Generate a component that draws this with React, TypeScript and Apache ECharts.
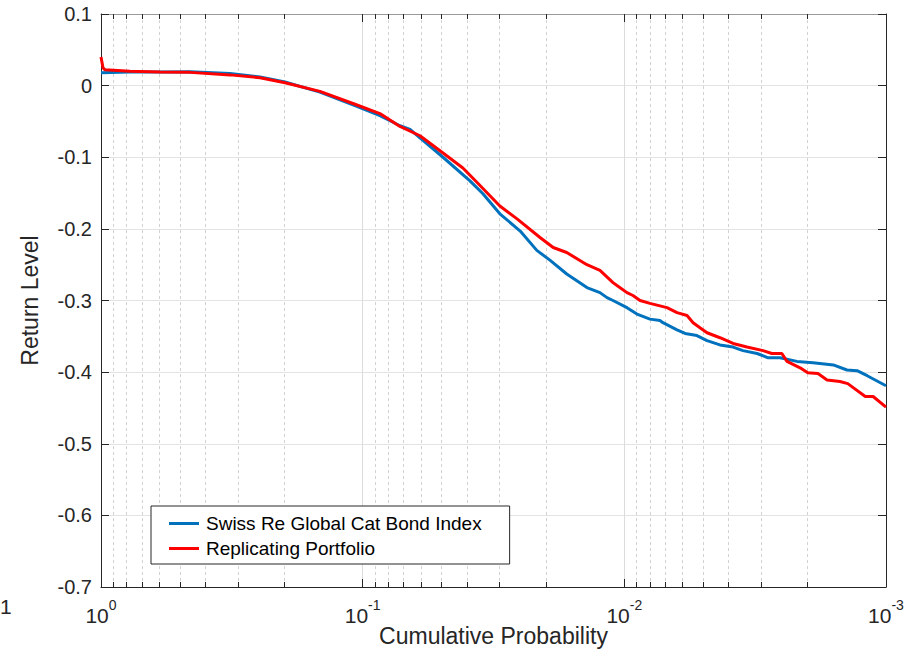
import React, { useEffect, useRef } from "react";
import * as echarts from "echarts";

const seriesNames = ["Swiss Re Global Cat Bond Index", "Replicating Portfolio"];

const probBlue = [1, 0.7747, 0.595, 0.4569, 0.3213, 0.2468, 0.1981, 0.1456, 0.107, 0.0859, 0.072, 0.0659, 0.0604, 0.0493, 0.0389, 0.0347, 0.0299, 0.025, 0.0216, 0.0192, 0.0166, 0.0139, 0.01239, 0.01165, 0.01105, 0.00977, 0.00895, 0.00798, 0.00731, 0.00712, 0.00629, 0.00586, 0.00528, 0.00483, 0.00431, 0.00384, 0.00352, 0.00311, 0.00282, 0.00254, 0.00219, 0.0019, 0.00159, 0.00141, 0.00129, 0.00118, 0.001];
const levelBlue = [0.018, 0.019, 0.019, 0.0195, 0.017, 0.012, 0.005, -0.009, -0.028, -0.042, -0.056, -0.061, -0.073, -0.1, -0.133, -0.151, -0.179, -0.203, -0.23, -0.244, -0.263, -0.282, -0.289, -0.296, -0.3, -0.31, -0.319, -0.326, -0.328, -0.331, -0.341, -0.346, -0.349, -0.356, -0.362, -0.365, -0.37, -0.374, -0.38, -0.38, -0.385, -0.387, -0.39, -0.397, -0.398, -0.405, -0.419];

const probRed = [1, 0.9826, 0.9654, 0.7747, 0.595, 0.4569, 0.3213, 0.2468, 0.1981, 0.1456, 0.107, 0.0859, 0.072, 0.0604, 0.0493, 0.0414, 0.0366, 0.0299, 0.0257, 0.021, 0.0187, 0.0166, 0.0139, 0.01239, 0.01105, 0.01067, 0.00977, 0.00927, 0.00871, 0.00798, 0.00687, 0.00629, 0.00576, 0.00546, 0.00514, 0.00483, 0.00431, 0.00384, 0.0034, 0.00295, 0.00273, 0.0025, 0.00239, 0.00213, 0.00199, 0.00182, 0.00168, 0.0015, 0.0014, 0.0012, 0.00112, 0.001];
const levelRed = [0.04, 0.025, 0.022, 0.02, 0.019, 0.0185, 0.015, 0.011, 0.004, -0.008, -0.026, -0.039, -0.057, -0.07, -0.094, -0.115, -0.135, -0.168, -0.186, -0.212, -0.226, -0.233, -0.25, -0.258, -0.275, -0.279, -0.289, -0.293, -0.3, -0.304, -0.31, -0.317, -0.321, -0.331, -0.338, -0.345, -0.352, -0.36, -0.365, -0.37, -0.374, -0.374, -0.385, -0.394, -0.401, -0.402, -0.411, -0.413, -0.416, -0.434, -0.434, -0.449];

const minorTicksX = [
  0.9, 0.8, 0.7, 0.6, 0.5, 0.4, 0.3, 0.2,
  0.09, 0.08, 0.07, 0.06, 0.05, 0.04, 0.03, 0.02,
  0.009, 0.008, 0.007, 0.006, 0.005, 0.004, 0.003, 0.002,
];

const yMin = -0.7;
const yMax = 0.1;
const yStep = 0.1;
const xMin = 0.001;
const xMax = 1;

const FONT = "'Liberation Sans', Arial, Helvetica, sans-serif";
const AXIS = "#262626";

export default function App() {
  const ref = useRef<HTMLDivElement>(null);
  useEffect(() => {
    const chart = echarts.init(ref.current!, null, { renderer: "svg" });
    const option: any = {
      animation: false,
      backgroundColor: "#fff",
      textStyle: { fontFamily: FONT },
      grid: { left: 101, top: 14, right: 32, bottom: 63, containLabel: false, outerBoundsMode: "none" },
      legend: {
        data: [
          { name: seriesNames[0], icon: "rect", itemStyle: { color: "#0072BD" } },
          { name: seriesNames[1], icon: "rect", itemStyle: { color: "#FF0000" } },
        ],
        orient: "vertical",
        left: 151,
        top: 506,
        padding: [7, 28, 5, 18],
        itemGap: 4,
        itemWidth: 30,
        itemHeight: 3,
        borderColor: AXIS,
        borderWidth: 1,
        borderRadius: 0,
        backgroundColor: "#fff",
        textStyle: { fontSize: 19, fontFamily: FONT, color: "#000", lineHeight: 21, padding: [0, 0, 0, 2] },
      },
      xAxis: [
        {
          type: "log",
          min: xMin,
          max: xMax,
          inverse: true,
          splitNumber: 3,
          position: "bottom",
          name: "Cumulative Probability",
          nameLocation: "middle",
          nameGap: 37,
          nameMoveOverlap: false,
          nameTextStyle: { fontSize: 23, color: AXIS, fontFamily: FONT, lineHeight: 23 },
          axisLine: { show: true, onZero: false, lineStyle: { color: AXIS, width: 1 } },
          axisTick: { show: true, inside: true, length: 8, lineStyle: { color: AXIS } },
          splitLine: { show: true, lineStyle: { color: "#dcdcdc", width: 1 } },
          axisLabel: {
            margin: 11,
            formatter: (v: number) => `{b|10}{e|${Math.round(Math.log10(v))}}`,
            rich: {
              b: { fontSize: 21, color: AXIS, fontFamily: FONT, lineHeight: 28, verticalAlign: "bottom" },
              e: { fontSize: 14, color: AXIS, fontFamily: FONT, lineHeight: 15, verticalAlign: "top" },
            },
          },
        },
        {
          type: "log",
          min: xMin,
          max: xMax,
          inverse: true,
          splitNumber: 3,
          position: "top",
          axisLine: { show: true, onZero: false, lineStyle: { color: "#9a9a9a", width: 1 } },
          axisTick: { show: true, inside: true, length: 8, lineStyle: { color: AXIS } },
          axisLabel: { show: false },
          splitLine: { show: false },
        },
      ],
      yAxis: [
        {
          type: "value",
          min: yMin,
          max: yMax,
          interval: yStep,
          position: "left",
          name: "Return Level",
          nameLocation: "middle",
          nameGap: 60,
          nameMoveOverlap: false,
          nameTextStyle: { fontSize: 23, color: AXIS, fontFamily: FONT },
          axisLine: { show: true, onZero: false, lineStyle: { color: AXIS, width: 1 } },
          axisTick: { show: true, inside: true, length: 8, lineStyle: { color: AXIS } },
          splitLine: { show: true, lineStyle: { color: "#e3e3e3", width: 1 } },
          axisLabel: {
            margin: 9,
            fontSize: 20,
            color: AXIS,
            fontFamily: FONT,
            formatter: (v: number) => (Math.abs(v) < 1e-9 ? "0" : v.toFixed(1)),
          },
        },
        {
          type: "value",
          min: yMin,
          max: yMax,
          interval: yStep,
          position: "right",
          axisLine: { show: true, onZero: false, lineStyle: { color: AXIS, width: 1 } },
          axisTick: { show: true, inside: true, length: 8, lineStyle: { color: AXIS } },
          axisLabel: { show: false },
          splitLine: { show: false },
        },
      ],
      series: [
        {
          type: "custom",
          name: "minor",
          xAxisIndex: 0,
          yAxisIndex: 0,
          z: 1,
          silent: true,
          data: minorTicksX.map((p) => [p, yMin]),
          renderItem: (params: any, api: any) => {
            const cs = params.coordSys;
            const x = Math.round(api.coord([api.value(0), yMin])[0]) + 0.5;
            const top = cs.y;
            const bot = cs.y + cs.height;
            return {
              type: "group",
              children: [
                { type: "line", shape: { x1: x, y1: top, x2: x, y2: bot }, style: { stroke: "#d2d2d2", lineWidth: 1, lineDash: [3, 3] } },
                { type: "line", shape: { x1: x, y1: bot, x2: x, y2: bot - 5 }, style: { stroke: AXIS, lineWidth: 1 } },
                { type: "line", shape: { x1: x, y1: top, x2: x, y2: top + 5 }, style: { stroke: AXIS, lineWidth: 1 } },
              ],
            };
          },
        },
        {
          type: "line",
          name: seriesNames[0],
          xAxisIndex: 0,
          yAxisIndex: 0,
          z: 3,
          symbol: "none",
          showSymbol: false,
          data: probBlue.map((p, i) => [p, levelBlue[i]]),
          lineStyle: { color: "#0072BD", width: 3 },
          itemStyle: { color: "#0072BD" },
        },
        {
          type: "line",
          name: seriesNames[1],
          xAxisIndex: 0,
          yAxisIndex: 0,
          z: 4,
          symbol: "none",
          showSymbol: false,
          data: probRed.map((p, i) => [p, levelRed[i]]),
          lineStyle: { color: "#FF0000", width: 3 },
          itemStyle: { color: "#FF0000" },
        },
      ],
      graphic: [
        {
          type: "text",
          left: 0,
          top: 596,
          style: { text: "1", fontSize: 21, fill: AXIS, fontFamily: FONT },
        },
      ],
    };
    chart.setOption(option);
    return () => chart.dispose();
  }, []);
  return <div ref={ref} style={{ position: "fixed", left: 0, top: 0, width: 918, height: 650 }} />;
}
